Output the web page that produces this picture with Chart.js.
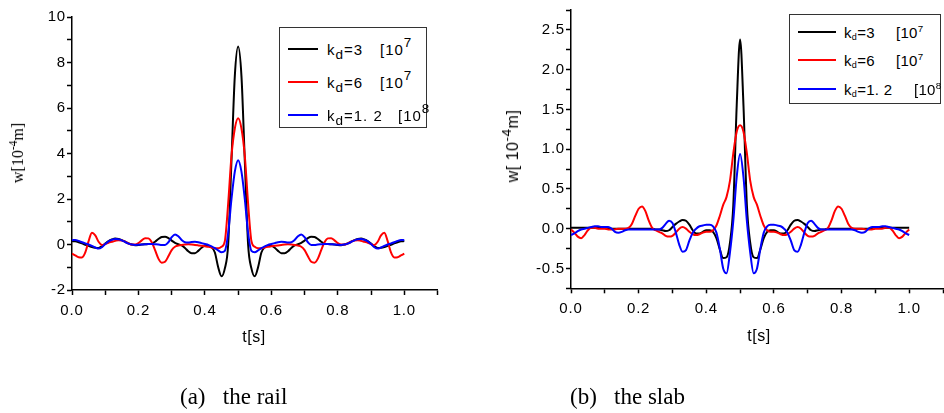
<!DOCTYPE html>
<html>
<head>
<meta charset="utf-8">
<script src="https://cdn.jsdelivr.net/npm/chart.js@4.4.1/dist/chart.umd.min.js"></script>
<style>
body{margin:0;width:944px;height:413px;overflow:hidden;background:#fff;position:relative;font-family:"Liberation Sans",Arial,sans-serif;color:#000;}
canvas{position:absolute;top:0;}
#railChart{left:0;}
#slabChart{left:472px;}
.ytitle{position:absolute;transform:translate(-50%,-50%) rotate(-90deg);white-space:nowrap;font-size:16px;}
.xtitle{position:absolute;transform:translate(-50%,-50%);font-size:16px;white-space:nowrap;letter-spacing:0.5px;}
.caption{position:absolute;top:384px;font-family:"Liberation Serif","Times New Roman",serif;font-size:23px;white-space:pre;}
.legend{position:absolute;border:1px solid #333;background:#fff;box-sizing:border-box;}
.legend .line{position:absolute;height:2px;margin-top:-1px;}
.legend .txt{position:absolute;font-size:15px;line-height:15px;white-space:nowrap;transform:translateY(-50%);}
sup{font-size:0.72em;vertical-align:0.55em;line-height:0;}
sub{font-size:0.75em;vertical-align:-0.3em;line-height:0;}
</style>
</head>
<body>
<canvas id="railChart" width="472" height="413"></canvas>
<canvas id="slabChart" width="478" height="413"></canvas>

<div class="ytitle" style="left:18px;top:153px;font-family:'Liberation Serif','Times New Roman',serif;">w[10<sup>-4</sup>m]</div>
<div class="ytitle" style="left:513px;top:146px;letter-spacing:0.5px;">w[ 10<sup style="font-size:0.85em">-4</sup>m]</div>
<div class="xtitle" style="left:254px;top:337px;">t[s]</div>
<div class="xtitle" style="left:759px;top:336px;">t[s]</div>
<div class="caption" style="left:180px;">(a)   the rail</div>
<div class="caption" style="left:570px;">(b)   the slab</div>

<script>
// sample times (s)
const tValues = Array.from({length: 101}, (_, i) => i / 100);

const seriesColors = ['#000000', '#ff0000', '#0000ff'];
const kdValues = ['3', '6', '1. 2'];
const kdExponents = ['7', '7', '8'];

// (a) the rail, w [1e-4 m]
const railK3e7 = [
  0.15,0.14,0.10,0.05,-0.01,-0.06,-0.11,-0.14,-0.15,-0.08,
  0.04,0.15,0.22,0.26,0.24,0.19,0.12,0.05,0.00,-0.03,
  -0.02,0.00,0.01,0.02,0.04,0.12,0.24,0.33,0.34,0.28,
  0.17,0.07,0.01,-0.04,-0.15,-0.30,-0.38,-0.38,-0.28,-0.14,
  -0.06,-0.05,-0.12,-0.35,-1.00,-1.40,-1.05,0.00,3.70,7.40,
  8.70,
  7.40,3.70,0.00,-1.05,-1.40,-1.00,-0.35,-0.12,-0.05,-0.06,
  -0.14,-0.28,-0.38,-0.38,-0.30,-0.15,-0.04,0.01,0.07,0.17,
  0.28,0.34,0.33,0.24,0.12,0.04,0.02,0.01,0.00,-0.02,
  -0.03,0.00,0.05,0.12,0.19,0.24,0.26,0.22,0.15,0.04,
  -0.08,-0.15,-0.14,-0.11,-0.06,-0.01,0.05,0.10,0.14,0.15
];
const railK6e7 = [
  -0.40,-0.48,-0.56,-0.57,-0.35,0.15,0.52,0.40,0.12,-0.02,
  0.02,0.08,0.12,0.16,0.19,0.18,0.12,0.05,0.00,0.00,
  0.06,0.18,0.28,0.27,0.10,-0.25,-0.62,-0.80,-0.76,-0.52,
  -0.25,-0.10,-0.05,-0.02,0.00,0.01,0.00,-0.02,-0.04,-0.06,
  -0.08,-0.10,-0.13,-0.17,-0.17,-0.10,0.15,1.80,3.90,5.10,
  5.55,
  5.10,3.90,1.80,0.15,-0.10,-0.17,-0.17,-0.13,-0.10,-0.08,
  -0.06,-0.04,-0.02,0.00,0.01,0.00,-0.02,-0.05,-0.10,-0.25,
  -0.52,-0.76,-0.80,-0.62,-0.25,0.10,0.27,0.28,0.18,0.06,
  0.00,0.00,0.05,0.12,0.18,0.19,0.16,0.12,0.08,0.02,
  -0.02,0.12,0.40,0.52,0.15,-0.35,-0.57,-0.56,-0.48,-0.40
];
const railK12e8 = [
  0.19,0.20,0.16,0.10,0.05,0.00,-0.06,-0.13,-0.18,-0.12,
  0.02,0.14,0.21,0.24,0.23,0.18,0.11,0.04,0.00,-0.02,
  -0.01,0.00,0.01,0.02,0.02,0.01,0.00,-0.02,-0.02,0.10,
  0.32,0.44,0.36,0.20,0.10,0.09,0.11,0.12,0.10,0.06,
  0.02,-0.02,-0.08,-0.16,-0.26,-0.34,-0.28,0.50,2.00,3.20,
  3.70,
  3.20,2.00,0.50,-0.28,-0.34,-0.26,-0.16,-0.08,-0.02,0.02,
  0.06,0.10,0.12,0.11,0.09,0.10,0.20,0.36,0.44,0.32,
  0.10,-0.02,-0.02,0.00,0.01,0.02,0.02,0.01,0.00,-0.01,
  -0.02,0.00,0.04,0.11,0.18,0.23,0.24,0.21,0.14,0.02,
  -0.12,-0.18,-0.13,-0.06,0.00,0.05,0.10,0.16,0.20,0.19
];

// (b) the slab, w [1e-4 m]
const slabK3e7 = [
  0.01,0.01,0.01,0.01,0.01,0.01,0.01,0.01,0.01,0.01,
  0.01,0.00,0.00,0.00,0.00,0.00,0.00,0.00,0.00,0.00,
  0.00,0.00,0.00,0.00,0.00,-0.01,-0.01,-0.02,-0.03,-0.02,
  0.02,0.06,0.09,0.11,0.10,0.05,-0.02,-0.06,-0.06,-0.04,
  -0.02,-0.02,-0.04,-0.12,-0.26,-0.37,-0.36,-0.18,0.30,1.55,
  2.38,
  1.55,0.30,-0.18,-0.36,-0.37,-0.26,-0.12,-0.04,-0.02,-0.02,
  -0.04,-0.06,-0.06,-0.02,0.05,0.10,0.11,0.09,0.06,0.02,
  -0.02,-0.03,-0.02,-0.01,-0.01,0.00,0.00,0.00,0.00,0.00,
  0.00,0.00,0.00,0.00,0.00,0.00,0.00,0.00,0.00,0.01,
  0.01,0.01,0.01,0.01,0.01,0.01,0.01,0.01,0.01,0.01
];
const slabK6e7 = [
  -0.01,-0.05,-0.10,-0.12,-0.08,-0.02,0.01,0.01,0.00,0.00,
  0.00,-0.01,-0.01,-0.01,0.00,0.00,0.00,0.01,0.06,0.16,
  0.25,0.28,0.22,0.10,0.01,-0.02,-0.04,-0.06,-0.09,-0.10,
  -0.09,-0.05,0.00,0.02,0.00,-0.04,-0.07,-0.08,-0.07,-0.05,
  -0.04,-0.04,-0.02,0.04,0.16,0.30,0.40,0.60,0.95,1.22,
  1.30,
  1.22,0.95,0.60,0.40,0.30,0.16,0.04,-0.02,-0.04,-0.04,
  -0.05,-0.07,-0.08,-0.07,-0.04,0.00,0.02,0.00,-0.05,-0.09,
  -0.10,-0.09,-0.06,-0.04,-0.02,0.01,0.10,0.22,0.28,0.25,
  0.16,0.06,0.01,0.00,0.00,0.00,-0.01,-0.01,-0.01,0.00,
  0.00,0.00,0.01,0.01,-0.02,-0.08,-0.12,-0.10,-0.05,-0.01
];
const slabK12e8 = [
  -0.08,-0.06,-0.03,-0.01,0.00,0.01,0.02,0.03,0.03,0.02,
  0.02,0.02,0.00,-0.04,-0.05,-0.04,-0.02,-0.01,-0.01,-0.01,
  -0.01,-0.01,-0.01,-0.01,-0.01,-0.01,-0.01,0.01,0.06,0.10,
  0.07,-0.05,-0.20,-0.29,-0.27,-0.15,-0.05,0.00,0.03,0.04,
  0.05,0.05,0.03,-0.05,-0.25,-0.50,-0.56,-0.30,0.10,0.65,
  0.94,
  0.65,0.10,-0.30,-0.56,-0.50,-0.25,-0.05,0.03,0.05,0.05,
  0.04,0.03,0.00,-0.05,-0.15,-0.27,-0.29,-0.20,-0.05,0.07,
  0.10,0.06,0.01,-0.01,-0.01,-0.01,-0.01,-0.01,-0.01,-0.01,
  -0.01,-0.01,-0.01,-0.02,-0.04,-0.05,-0.04,0.00,0.02,0.02,
  0.02,0.03,0.03,0.02,0.01,0.00,-0.01,-0.03,-0.06,-0.08
];

const tickFont = {family: "'Liberation Sans', Arial, sans-serif", size: 15};

// the scanned figure has loosely spaced tick numbers
const spacedText = {
  id: 'spacedText',
  beforeDraw(chart) { chart.ctx.letterSpacing = '0.8px'; }
};

function buildChart(id, seriesList, cfg) {
  return new Chart(document.getElementById(id), {
    type: 'line',
    data: {
      datasets: seriesList.map((vals, i) => ({
        data: tValues.map((t, j) => ({x: t, y: vals[j]})),
        borderColor: seriesColors[i],
        borderWidth: 2,
        pointRadius: 0,
        fill: false,
        cubicInterpolationMode: 'monotone',
        order: 3 - i
      }))
    },
    options: {
      responsive: false,
      animation: false,
      events: [],
      layout: {padding: cfg.padding},
      plugins: {legend: {display: false}, tooltip: {enabled: false}},
      scales: {
        x: {
          type: 'linear', min: 0, max: 1.1,
          afterFit: s => { s.height = 40; },
          border: {color: '#000', width: 1.5},
          grid: {drawOnChartArea: false, tickLength: 5, tickColor: '#000', tickWidth: 1.5},
          ticks: {
            stepSize: 0.1, autoSkip: false, maxRotation: 0, padding: 7, color: '#000', font: tickFont,
            callback: v => (Math.round(v * 10) % 2 === 0 && v < 1.05) ? v.toFixed(1) : ''
          }
        },
        y: {
          min: cfg.yMin, max: cfg.yMax,
          afterFit: s => { s.width = cfg.yWidth; },
          border: {color: '#000', width: 1.5},
          grid: {drawOnChartArea: false, tickLength: 5, tickColor: '#000', tickWidth: 1.5},
          ticks: {
            stepSize: cfg.yStep, autoSkip: false, padding: 1, color: '#000', font: tickFont,
            callback: cfg.yLabel
          }
        }
      }
    },
    plugins: [spacedText]
  });
}

buildChart('railChart', [railK3e7, railK6e7, railK12e8], {
  yMin: -2, yMax: 10, yStep: 1, yWidth: 72,
  padding: {top: 17, right: 34.5, bottom: 83, left: 0},
  yLabel: v => (Math.round(v) % 2 === 0) ? String(v) : ''
});

buildChart('slabChart', [slabK3e7, slabK6e7, slabK12e8], {
  yMin: -0.75, yMax: 2.75, yStep: 0.25, yWidth: 99,
  padding: {top: 8, right: 1, bottom: 84.7, left: 0},
  yLabel: v => (Math.abs(v * 2 - Math.round(v * 2)) < 1e-6) ? v.toFixed(1) : ''
});

// legends
function buildLegend(box, layout) {
  const el = document.createElement('div');
  el.className = 'legend';
  Object.assign(el.style, box);
  kdValues.forEach((k, i) => {
    const line = document.createElement('div');
    line.className = 'line';
    Object.assign(line.style, {top: layout.rows[i] + 'px', left: layout.lineX[0] + 'px',
      width: (layout.lineX[1] - layout.lineX[0]) + 'px', background: seriesColors[i]});
    el.appendChild(line);
    const t1 = document.createElement('div');
    t1.className = 'txt';
    t1.style.top = layout.rows[i] + 'px';
    t1.style.left = layout.textX + 'px';
    t1.style.letterSpacing = layout.spacing;
    t1.innerHTML = 'k<sub style="font-size:' + layout.subSize + '">d</sub>=' + k;
    el.appendChild(t1);
    const t2 = document.createElement('div');
    t2.className = 'txt';
    t2.style.top = layout.rows[i] + 'px';
    t2.style.left = layout.expX[i] + 'px';
    t2.style.letterSpacing = layout.spacing;
    t2.innerHTML = '[10<sup style="font-size:' + layout.supSize + '">' + kdExponents[i] + '</sup>';
    el.appendChild(t2);
  });
  document.body.appendChild(el);
}

buildLegend({left: '279px', top: '27px', width: '148px', height: '101px'},
  {rows: [20.5, 53.5, 86.5], lineX: [8, 38], textX: 47, expX: [100, 100, 118],
   subSize: '0.9em', supSize: '0.9em', spacing: '1px'});
buildLegend({left: '789px', top: '14px', width: '152px', height: '90px'},
  {rows: [16.5, 45, 73.5], lineX: [8, 46], textX: 54, expX: [106, 106, 124],
   subSize: '0.6em', supSize: '0.65em', spacing: '0.3px'});
</script>
</body>
</html>
